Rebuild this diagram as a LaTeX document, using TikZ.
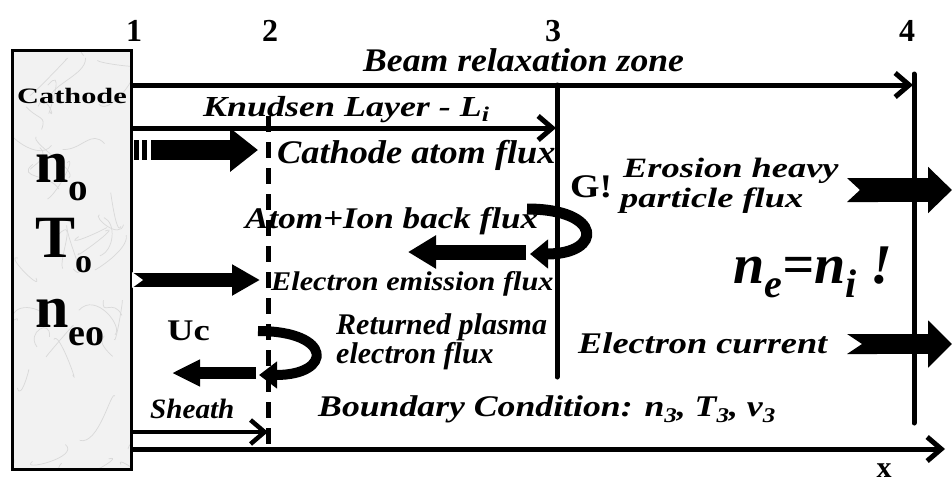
\documentclass[tikz,border=0pt]{standalone}
\usepackage{fontspec}
\usepackage{graphicx}
\setmainfont{Liberation Serif}
\usetikzlibrary{arrows.meta}

\newcommand\fsz[1]{\fontsize{#1}{#1}\selectfont}
\newcommand\dnsub[3]{\raisebox{-#3}{\fsz{#2}#1}}
\newcommand\wid[2]{\scalebox{#1}[1]{#2}}

\begin{document}
\begin{tikzpicture}[x=1pt, y=-1pt,
    lbl/.style={inner sep=0pt, anchor=base west, font=\bfseries\itshape\fsz{#1}},
    num/.style={inner sep=0pt, anchor=base, font=\bfseries\fsz{32}},
    big/.style={inner sep=0pt, anchor=base west, font=\bfseries\fsz{60}},
    thin/.style={line width=5pt, -{Straight Barb[length=14pt, width=24pt]}},
    wall/.style={line width=5pt, line cap=round},
    blk/.style={line width=#1, -{Triangle[length=28pt, width=#1*2.1]}},
  ]
  \useasboundingbox (0,0) rectangle (952,482);

  % Kathode (marmer)
  \fill[gray!10] (12,50) rectangle (131,469);
  \begin{scope}
    \clip (12,50) rectangle (131,469);
    \pgfmathsetseed{11}
    \foreach \i in {1,...,40}
      \draw[gray!30, line width=0.7pt]
        ({rnd*119+12},{rnd*419+50}) .. controls +({rand*20},{rand*20}) and +({rand*20},{rand*20}) .. +({rand*45},{rand*45});
  \end{scope}
  \draw[line width=3pt] (12,50) rectangle (131,469);
  \node[inner sep=0pt, anchor=base, font=\bfseries\fsz{22}] (cath) at (72,103) {\wid{1.38}{Cathode}};
  \node[big] (no)  at (35,182) {n\dnsub{o}{39}{18pt}};
  \node[big] (To)  at (35,257) {T\dnsub{o}{34}{15pt}};
  \node[big] (neo) at (35,327) {n\dnsub{eo}{38}{18pt}};

  % Posities 1 tot 4
  \node[num] (n1) at (134,41) {1};
  \node[num] (n2) at (270,41) {2};
  \node[num] (n3) at (553,41) {3};
  \node[num] (n4) at (907,41) {4};

  \coordinate (c1) at (131,85);   \coordinate (c4) at (913,85);
  \coordinate (k1) at (131,128);  \coordinate (k3) at (556,128);
  \coordinate (s1) at (131,432);  \coordinate (s2) at (268,432);
  \coordinate (a1) at (131,449);  \coordinate (a2) at (945,449);

  % Zones
  \draw[thin] (c1) -- (c4);
  \node[lbl=33] (beam) at (363,71) {\wid{1.08}{Beam relaxation zone}};
  \draw[thin] (k1) -- (k3);
  \node[lbl=29] (knud) at (203,116) {\wid{1.24}{Knudsen Layer - L\dnsub{i}{21}{5pt}}};
  \draw[thin, line width=4.5pt] (s1) -- (s2);
  \node[lbl=28] (sheath) at (150,418) {\wid{1.04}{Sheath}};
  \draw[thin] (a1) -- (a2);
  \node[inner sep=0pt, anchor=base, font=\bfseries\fsz{30}] (xlab) at (884,477) {x};

  % Grenzen
  \draw[line width=5pt, dash pattern=on 16pt off 10pt] (268,116) -- (268,449);
  \draw[wall] (557,85) -- (557,377);
  \draw[wall] (914,74) -- (914,423);

  % Fluxen bij de kathode
  \draw[line width=20pt, dash pattern=on 5pt off 3pt on 5pt off 4pt] (134,150) -- (152,150);
  \draw[blk=20pt] (152,150) -- (258,150);
  \node[lbl=33] (atom) at (277,163) {\wid{1.10}{Cathode atom flux}};

  \draw[blk=14pt] (133,280) -- (260,280);
  \fill[white] (132,272) -- (143,280) -- (132,288) -- cycle;
  \node[lbl=27] (emis) at (271,290) {\wid{1.12}{Electron emission flux}};

  \node[lbl=30] (back) at (245,228) {\wid{1.17}{Atom+Ion back flux}};
  \draw[line width=11pt, -{Triangle[length=18pt, width=28pt]}] (527,209) .. controls (603,209) and (603,254) .. (530,254);
  \draw[blk=15pt] (526,252) -- (408,252);

  \node[inner sep=0pt, anchor=base west, font=\bfseries\fsz{33}] (gex) at (570,197) {\wid{1.15}{G!}};

  % Teruggekeerde elektronen
  \node[inner sep=0pt, anchor=base west, font=\bfseries\fsz{30}] (uc) at (167,340) {\wid{1.22}{Uc}};
  \draw[line width=10pt, -{Triangle[length=18pt, width=26pt]}] (258,331) .. controls (333,331) and (333,375) .. (259,375);
  \draw[blk=12pt] (256,373) -- (172,373);
  \node[lbl=30, align=left, font=\bfseries\itshape\fontsize{30}{26}\selectfont] (ret) at (336,363) {Returned plasma\\electron flux};

  % Plasma zijde
  \node[lbl=28] (eros) at (623,177) {\wid{1.3}{Erosion heavy}};
  \node[lbl=28] (eros2) at (620,207) {\wid{1.3}{particle flux}};
  \draw[line width=24pt, {Triangle Cap[reversed, length=13pt]}-{Triangle[length=24pt, width=45pt]}] (847,190) -- (952,190);
  \node[lbl=56] (neq) at (733,283) {n\dnsub{e}{40}{14pt}=n\dnsub{i}{40}{14pt} !};
  \node[lbl=30] (ecur) at (578,353) {\wid{1.21}{Electron current}};
  \draw[line width=20pt, {Triangle Cap[reversed, length=15pt]}-{Triangle[length=24pt, width=46pt]}] (847,344) -- (952,344);

  \node[lbl=30] (bound) at (318,416) {\wid{1.19}{Boundary Condition: n\dnsub{3}{21}{6pt}, T\dnsub{3}{21}{6pt}, v\dnsub{3}{21}{6pt}}};

\end{tikzpicture}
\end{document}
